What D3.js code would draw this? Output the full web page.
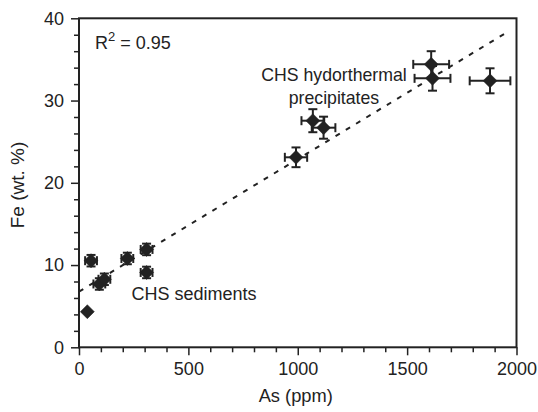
<!DOCTYPE html>
<html><head><meta charset="utf-8">
<script src="https://cdn.jsdelivr.net/npm/d3@7"></script>
<style>
html,body{margin:0;padding:0;background:#fff;}
svg text{font-family:"Liberation Sans",Arial,Helvetica,sans-serif;fill:#222;}
</style></head>
<body><svg id="c" width="538" height="412"></svg>
<script>
// Sediment samples
const sedAs  = [38, 55, 93, 116, 221, 309, 309];
const sedFe  = [4.33, 10.53, 7.7, 8.27, 10.8, 11.9, 9.1];
const sedHasErr = [false, true, true, true, true, true, true];
const sedAsErr = [27, 27, 27, 27, 27, 27, 27];
const sedFeErr = [0.7, 0.7, 0.7, 0.7, 0.7, 0.7, 0.7];
// Hydrothermal precipitates
const hydAs    = [992, 1069, 1118, 1610, 1616, 1879];
const hydFe    = [23.1, 27.55, 26.7, 34.4, 32.7, 32.4];
const hydAsErr = [51, 52, 54, 82, 82, 93];
const hydFeErr = [1.2, 1.4, 1.34, 1.6, 1.5, 1.52];
// Regression line
const trendAs = [0, 1950];
const trendFe = [6.76, 38.2];
// Ticks
const xTicks = [0, 500, 1000, 1500, 2000];
const yTicks = [0, 10, 20, 30, 40];

const svg = d3.select("#c");
const L = 79, R = 516.5, T = 18.3, B = 347.3;
const x = d3.scaleLinear().domain([0, 2000]).range([L, R]);
const y = d3.scaleLinear().domain([0, 40]).range([B, T]);
const ink = "#222";

// minor ticks
const gxm = svg.append("g").attr("transform", `translate(0,${B})`)
  .call(d3.axisBottom(x).tickValues(d3.range(0, 2001, 100).filter(v => v % 500 !== 0)).tickSize(5).tickFormat(""));
const gym = svg.append("g").attr("transform", `translate(${L},0)`)
  .call(d3.axisLeft(y).tickValues(d3.range(0, 41, 2).filter(v => v % 10 !== 0)).tickSize(5).tickFormat(""));
// major
const gx = svg.append("g").attr("transform", `translate(0,${B})`)
  .call(d3.axisBottom(x).tickValues(xTicks).tickSize(8).tickPadding(7).tickFormat(d3.format("d")));
const gy = svg.append("g").attr("transform", `translate(${L},0)`)
  .call(d3.axisLeft(y).tickValues(yTicks).tickSize(8).tickPadding(7).tickFormat(d3.format("d")));
[gxm, gym, gx, gy].forEach(g => {
  g.select(".domain").remove();
  g.selectAll(".tick line").attr("stroke", ink).attr("stroke-width", 1.5);
  g.selectAll(".tick text").attr("font-size", 18).attr("fill", ink)
    .attr("font-family", '"Liberation Sans",Arial,sans-serif');
});
// frame
svg.append("rect").attr("x", L).attr("y", T).attr("width", R - L).attr("height", B - T)
  .attr("fill", "none").attr("stroke", ink).attr("stroke-width", 2);

// trend line
svg.append("line")
  .attr("x1", x(trendAs[0])).attr("y1", y(trendFe[0]))
  .attr("x2", x(trendAs[1])).attr("y2", y(trendFe[1]))
  .attr("stroke", ink).attr("stroke-width", 2).attr("stroke-dasharray", "5,7");

function errBars(g, cx, cy, ex, ey) {
  const cap = 4.5;
  const x0 = x(cx - ex), x1 = x(cx + ex), y0 = y(cy - ey), y1 = y(cy + ey);
  const px = x(cx), py = y(cy);
  const st = (sel) => sel.attr("stroke", ink).attr("stroke-width", 2);
  st(g.append("line").attr("x1", x0).attr("x2", x1).attr("y1", py).attr("y2", py));
  st(g.append("line").attr("x1", px).attr("x2", px).attr("y1", y0).attr("y2", y1));
  st(g.append("line").attr("x1", x0).attr("x2", x0).attr("y1", py - cap).attr("y2", py + cap));
  st(g.append("line").attr("x1", x1).attr("x2", x1).attr("y1", py - cap).attr("y2", py + cap));
  st(g.append("line").attr("x1", px - cap).attr("x2", px + cap).attr("y1", y0).attr("y2", y0));
  st(g.append("line").attr("x1", px - cap).attr("x2", px + cap).attr("y1", y1).attr("y2", y1));
}
const diamond = d3.symbol().type(d3.symbolDiamond2 || d3.symbolDiamond).size(98);
function diam(g, cx, cy) {
  const h = 7;
  const px = x(cx), py = y(cy);
  g.append("path").attr("d", `M${px},${py - h}L${px + h},${py}L${px},${py + h}L${px - h},${py}Z`)
    .attr("fill", ink).attr("stroke", ink).attr("stroke-width", 0.5);
}
const gp = svg.append("g");
sedAs.forEach((a, i) => {
  if (sedHasErr[i]) errBars(gp, a, sedFe[i], sedAsErr[i], sedFeErr[i]);
  diam(gp, a, sedFe[i]);
});
hydAs.forEach((a, i) => {
  errBars(gp, a, hydFe[i], hydAsErr[i], hydFeErr[i]);
  diam(gp, a, hydFe[i]);
});

// annotations
const r2 = svg.append("text").attr("x", 95).attr("y", 49).attr("font-size", 18);
r2.append("tspan").text("R");
r2.append("tspan").attr("dy", -8).attr("font-size", 13).text("2");
r2.append("tspan").attr("dy", 8).text(" = 0.95");

svg.append("text").attr("x", 334).attr("y", 80.5).attr("text-anchor", "middle").attr("font-size", 17.7).text("CHS hydorthermal");
svg.append("text").attr("x", 334).attr("y", 104).attr("text-anchor", "middle").attr("font-size", 17.7).text("precipitates");
svg.append("text").attr("x", 131.5).attr("y", 300).attr("font-size", 18).text("CHS sediments");

// axis titles
svg.append("text").attr("x", (L + R) / 2 - 2).attr("y", 402).attr("text-anchor", "middle").attr("font-size", 18.3).text("As (ppm)");
svg.append("text").attr("transform", "translate(23.5,185) rotate(-90)").attr("text-anchor", "middle").attr("font-size", 19).text("Fe (wt. %)");
</script></body></html>
